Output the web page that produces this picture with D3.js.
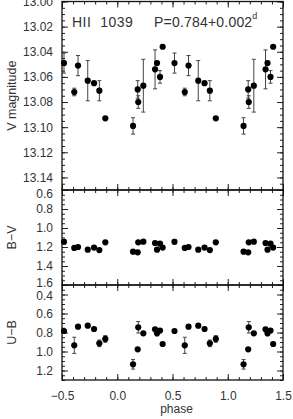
<!DOCTYPE html>
<html lang="en">
<head>
<meta charset="utf-8">
<title>HII 1039 light curve</title>
<script src="https://cdn.jsdelivr.net/npm/d3@7"></script>
<style>
  body { margin: 0; background: #fff; }
  svg text { font-family: "Liberation Sans", Arial, sans-serif; fill: #333; }
  .axis path { display: none; }
  .axis line { stroke: #222; }
</style>
</head>
<body>
<svg id="chart" width="293" height="419"></svg>
<script>
// base phases in [0,1) and the measured values
var phase = [0.143, 0.185, 0.190, 0.236, 0.342, 0.360, 0.387, 0.411, 0.518, 0.611, 0.645, 0.733, 0.790, 0.838, 0.892];
var vMag  = [13.099, 13.070, 13.080, 13.067, 13.054, 13.049, 13.060, 13.036, 13.049, 13.072, 13.051, 13.063, 13.065, 13.071, 13.093];
var vErr  = [0.0065, 0.007, 0.005, 0.021, 0.0155, 0, 0.005, 0, 0.008, 0.003, 0.008, 0.016, 0, 0.008, 0];
var bv    = [1.249, 1.256, 1.151, 1.144, 1.158, 1.228, 1.165, 1.206, 1.145, 1.210, 1.200, 1.228, 1.206, 1.232, 1.151];
var bvErr = [0, 0, 0, 0, 0.015, 0, 0, 0, 0.025, 0, 0, 0, 0, 0, 0];
var ub    = [1.135, 0.977, 0.745, 0.809, 0.767, 0.809, 0.780, 0.921, 0.784, 0.935, 0.739, 0.728, 0.763, 0.914, 0.868];
var ubErr = [0.05, 0, 0.06, 0, 0, 0.025, 0, 0, 0, 0.085, 0, 0, 0, 0.035, 0.035];

var xTicks = [-0.5, 0, 0.5, 1, 1.5];
var vTicks = [13.00, 13.02, 13.04, 13.06, 13.08, 13.10, 13.12, 13.14];
var bvTicks = [0.6, 0.8, 1.0, 1.2, 1.4, 1.6];
var ubTicks = [0.4, 0.6, 0.8, 1.0, 1.2];

var svg = d3.select("#chart");
var left = 62, right = 283;

var x = d3.scaleLinear().domain([-0.5, 1.5]).range([left, right]);

var panels = [
  {vals: vMag, err: vErr, domain: [13.00, 13.15], range: [1.5, 190], ticks: vTicks, minor: 0.005, fmt: ".2f", label: "V magnitude"},
  {vals: bv, err: bvErr, domain: [0.6, 1.6], range: [190, 285], ticks: bvTicks, minor: 0.05, fmt: ".1f", label: "B\u2212V"},
  {vals: ub, err: ubErr, domain: [0.3, 1.3], range: [285, 380], ticks: ubTicks, minor: 0.05, fmt: ".1f", label: "U\u2212B"}
];

// unfold phases onto -0.5..1.5
function unfold(vals, err) {
  var out = [];
  phase.forEach(function(p, i) {
    [-1, 0, 1].forEach(function(k) {
      var ph = p + k;
      if (ph >= -0.5 && ph <= 1.5) out.push({p: ph, v: vals[i], e: err[i]});
    });
  });
  return out;
}

function range(a, b, s) {
  var r = [];
  for (var t = a; t <= b + 1e-9; t += s) r.push(+t.toFixed(4));
  return r;
}
var xMinor = range(-0.5, 1.5, 0.1);

panels.forEach(function(pn, idx) {
  var y = d3.scaleLinear().domain(pn.domain).range(pn.range);
  var top = pn.range[0], bot = pn.range[1];
  var minor = range(pn.domain[0], pn.domain[1], pn.minor);

  // y axes, ticks pointing inward
  svg.append("g").attr("class", "axis").attr("transform", "translate(" + left + ",0)")
    .call(d3.axisLeft(y).tickValues(minor).tickSize(-3).tickFormat(""));
  var ly = svg.append("g").attr("class", "axis").attr("transform", "translate(" + left + ",0)")
    .call(d3.axisLeft(y).tickValues(pn.ticks).tickSize(-6).tickPadding(9).tickFormat(d3.format(pn.fmt)));
  ly.selectAll("text").style("font-size", "12px")
    .attr("y", function(d) {
      // labels at the panel edges are pushed inward a little
      if (idx > 0 && Math.abs(y(d) - top) < 2) return 4;
      if (idx < 2 && idx > 0 && Math.abs(y(d) - bot) < 2) return -2.5;
      if (idx == 2 && d == 0.4) return 1.5;
      return 0;
    });
  svg.append("g").attr("class", "axis").attr("transform", "translate(" + right + ",0)")
    .call(d3.axisRight(y).tickValues(minor).tickSize(-3).tickFormat(""));
  svg.append("g").attr("class", "axis").attr("transform", "translate(" + right + ",0)")
    .call(d3.axisRight(y).tickValues(pn.ticks).tickSize(-6).tickFormat(""));

  // x ticks at top and bottom of each panel
  svg.append("g").attr("class", "axis").attr("transform", "translate(0," + top + ")")
    .call(d3.axisTop(x).tickValues(xMinor).tickSize(-3).tickFormat(""));
  svg.append("g").attr("class", "axis").attr("transform", "translate(0," + top + ")")
    .call(d3.axisTop(x).tickValues(xTicks).tickSize(-6).tickFormat(""));
  svg.append("g").attr("class", "axis").attr("transform", "translate(0," + bot + ")")
    .call(d3.axisBottom(x).tickValues(xMinor).tickSize(-3).tickFormat(""));
  var bx = svg.append("g").attr("class", "axis").attr("transform", "translate(0," + bot + ")")
    .call(d3.axisBottom(x).tickValues(xTicks).tickSize(-6).tickPadding(11)
      .tickFormat(idx == 2 ? d3.format(".1f") : ""));
  bx.selectAll("text").style("font-size", "12px");

  // frame
  svg.append("rect").attr("x", left).attr("y", top).attr("width", right - left).attr("height", bot - top)
    .attr("fill", "none").attr("stroke", "#111").attr("stroke-width", 1.3);

  // y label
  svg.append("text").attr("transform", "translate(16," + ((top + bot) / 2) + ") rotate(-90)")
    .attr("text-anchor", "middle").style("font-size", "12.5px").text(pn.label);

  var pts = unfold(pn.vals, pn.err);
  var g = svg.append("g");
  var eb = pts.filter(function(d) { return d.e > 0; });
  g.selectAll(".eb").data(eb).enter().append("path")
    .attr("d", function(d) {
      var px = x(d.p), y1 = y(d.v - d.e), y2 = y(d.v + d.e);
      return "M" + px + "," + y1 + "V" + y2 + "M" + (px - 2) + "," + y1 + "H" + (px + 2) + "M" + (px - 2) + "," + y2 + "H" + (px + 2);
    })
    .attr("stroke", "#444").attr("stroke-width", 1).attr("fill", "none");
  g.selectAll("circle").data(pts).enter().append("circle")
    .attr("cx", function(d) { return x(d.p); })
    .attr("cy", function(d) { return y(d.v); })
    .attr("r", 3.1).attr("fill", "#000");
});

// titles
svg.append("text").attr("x", 72).attr("y", 26.5).style("font-size", "14px")
  .style("letter-spacing", "0.5px").style("white-space", "pre").text("HII  1039");
var pt = svg.append("text").attr("x", 154).attr("y", 26.5).style("font-size", "14px")
  .style("letter-spacing", "0.2px");
pt.append("tspan").text("P=0.784+0.002");
pt.append("tspan").attr("dy", -8).style("font-size", "9px").text("d");

svg.append("text").attr("x", (left + right) / 2 + 4).attr("y", 413).attr("text-anchor", "middle")
  .style("font-size", "12px").text("phase");
</script>
</body>
</html>
